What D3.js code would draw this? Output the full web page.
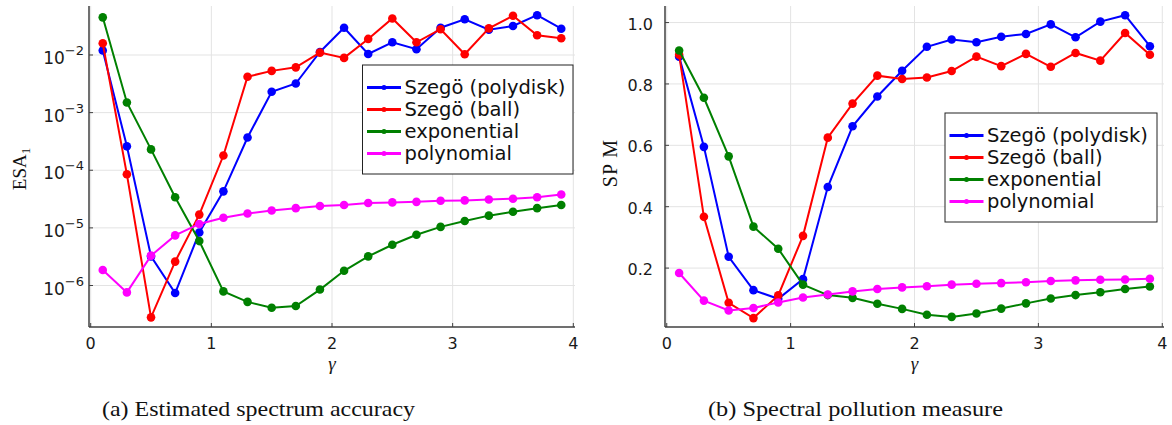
<!DOCTYPE html>
<html>
<head>
<meta charset="utf-8">
<script src="https://cdn.jsdelivr.net/npm/d3@7"></script>
<style>
  html, body { margin: 0; padding: 0; background: #fff; }
  svg { display: block; }
</style>
</head>
<body>
<svg id="chart" width="1172" height="425"></svg>
<script>
// ---------- data ----------
const gammas = [0.1,0.3,0.5,0.7,0.9,1.1,1.3,1.5,1.7,1.9,2.1,2.3,2.5,2.7,2.9,3.1,3.3,3.5,3.7,3.9];
const seriesNames = ["Szegö (polydisk)", "Szegö (ball)", "exponential", "polynomial"];
const seriesColors = ["#0000ff", "#ff0000", "#008000", "#ff00ff"];

// (a) ESA_1
const esaPolydisk = [0.012,2.6e-4,3.2e-6,7.4e-7,8.3e-6,4.3e-5,3.7e-4,2.3e-3,3.2e-3,0.0113,0.0297,0.0104,0.0166,0.0126,0.0297,0.0416,0.0275,0.0318,0.049,0.0286];
const esaBall     = [0.016,8.5e-5,2.8e-7,2.6e-6,1.7e-5,1.8e-4,4.2e-3,5.3e-3,6.1e-3,0.011,0.0089,0.019,0.043,0.0166,0.028,0.0103,0.029,0.048,0.022,0.0195];
const esaExp      = [0.045,1.5e-3,2.3e-4,3.4e-5,5.9e-6,7.9e-7,5.2e-7,4.1e-7,4.4e-7,8.5e-7,1.8e-6,3.2e-6,5.1e-6,7.6e-6,1.04e-5,1.32e-5,1.63e-5,1.9e-5,2.2e-5,2.5e-5];
const esaPoly     = [1.86e-6,7.6e-7,3.3e-6,7.4e-6,1.17e-5,1.5e-5,1.78e-5,2.0e-5,2.2e-5,2.4e-5,2.5e-5,2.7e-5,2.77e-5,2.83e-5,2.95e-5,3.0e-5,3.1e-5,3.2e-5,3.4e-5,3.8e-5];

// (b) SPM
const spmPolydisk = [0.889,0.595,0.237,0.128,0.100,0.164,0.464,0.662,0.759,0.843,0.921,0.945,0.936,0.954,0.963,0.994,0.952,1.003,1.024,0.923];
const spmBall     = [0.895,0.367,0.087,0.037,0.111,0.305,0.625,0.736,0.827,0.816,0.821,0.842,0.889,0.858,0.898,0.856,0.901,0.876,0.966,0.895];
const spmExp      = [0.909,0.755,0.564,0.335,0.263,0.146,0.112,0.103,0.084,0.067,0.048,0.041,0.052,0.068,0.085,0.101,0.112,0.121,0.132,0.140];
const spmPoly     = [0.184,0.094,0.062,0.070,0.088,0.104,0.114,0.124,0.132,0.137,0.141,0.146,0.149,0.151,0.154,0.158,0.160,0.162,0.163,0.165];

const xTicks = [0,1,2,3,4];
const esaTickExps = [-6,-5,-4,-3,-2];
const spmTicks = [0.2,0.4,0.6,0.8,1.0];

const captionA = "(a) Estimated spectrum accuracy";
const captionB = "(b) Spectral pollution measure";

// ---------- drawing ----------
const svg = d3.select("#chart");
const SANS = "DejaVu Sans, sans-serif";
const SERIF = "Liberation Serif, DejaVu Serif, serif";
const plotTop = 6, plotBottom = 327;

function panel(opts) {
  const g = svg.append("g");
  const x = d3.scaleLinear().domain([-0.014, 4.014]).range([opts.left, opts.right]);
  const y = opts.yScale;

  // grid
  g.append("g").selectAll("line").data(xTicks).join("line")
    .attr("x1", d => x(d)).attr("x2", d => x(d))
    .attr("y1", plotTop).attr("y2", plotBottom)
    .attr("stroke", "#e3e3e3").attr("stroke-width", 1);
  g.append("g").selectAll("line").data(opts.yTickVals).join("line")
    .attr("x1", opts.left).attr("x2", opts.right)
    .attr("y1", d => y(d)).attr("y2", d => y(d))
    .attr("stroke", "#e3e3e3").attr("stroke-width", 1);

  // series
  const clip = "clip" + opts.id;
  svg.append("clipPath").attr("id", clip).append("rect")
    .attr("x", opts.left - 6).attr("y", 0).attr("width", opts.right - opts.left + 12).attr("height", plotBottom + 6);
  const sg = g.append("g").attr("clip-path", `url(#${clip})`);
  const line = d3.line().x((d, i) => x(gammas[i])).y(d => y(d));
  opts.series.forEach((vals, k) => {
    sg.append("path").datum(vals).attr("d", line)
      .attr("fill", "none").attr("stroke", seriesColors[k]).attr("stroke-width", 2);
    sg.append("g").selectAll("circle").data(vals).join("circle")
      .attr("cx", (d, i) => x(gammas[i])).attr("cy", d => y(d)).attr("r", 4.3)
      .attr("fill", seriesColors[k]);
  });

  // axes lines
  g.append("line").attr("x1", opts.left).attr("x2", opts.left).attr("y1", plotTop).attr("y2", plotBottom)
    .attr("stroke", "#404040").attr("stroke-width", 1.5);
  g.append("line").attr("x1", opts.left).attr("x2", opts.right).attr("y1", plotBottom).attr("y2", plotBottom)
    .attr("stroke", "#404040").attr("stroke-width", 1.5);
  // tick marks
  g.append("g").selectAll("line").data(xTicks).join("line")
    .attr("x1", d => x(d)).attr("x2", d => x(d)).attr("y1", plotBottom).attr("y2", plotBottom - 4)
    .attr("stroke", "#404040").attr("stroke-width", 1);
  g.append("g").selectAll("line").data(opts.yTickVals).join("line")
    .attr("x1", opts.left).attr("x2", opts.left + 4).attr("y1", d => y(d)).attr("y2", d => y(d))
    .attr("stroke", "#404040").attr("stroke-width", 1);

  // x tick labels
  g.append("g").selectAll("text").data(xTicks).join("text")
    .attr("x", d => x(d)).attr("y", 349)
    .attr("text-anchor", "middle").attr("font-family", SANS).attr("font-size", 16)
    .attr("fill", "#1a1a1a").text(d => d);

  // y tick labels
  opts.drawYLabels(g, y);

  // x label
  g.append("text").attr("x", x(2)).attr("y", 370)
    .attr("text-anchor", "middle").attr("font-family", SERIF).attr("font-style", "italic")
    .attr("font-size", 19).attr("fill", "#1a1a1a").text("γ");

  // legend
  const L = opts.legend;
  g.append("rect").attr("x", L.x).attr("y", L.y).attr("width", L.w).attr("height", L.h)
    .attr("fill", "#fff").attr("stroke", "#222").attr("stroke-width", 1);
  seriesNames.forEach((name, k) => {
    const cy = L.y + 22.5 + k * 22;
    g.append("line").attr("x1", L.x + 4.5).attr("x2", L.x + 38.5).attr("y1", cy).attr("y2", cy)
      .attr("stroke", seriesColors[k]).attr("stroke-width", 3.2);
    g.append("circle").attr("cx", L.x + 21.5).attr("cy", cy).attr("r", 2.5).attr("fill", seriesColors[k]);
    g.append("text").attr("x", L.x + 42).attr("y", cy + 6.8)
      .attr("font-family", SANS).attr("font-size", 19.5).attr("fill", "#111").text(name);
  });

  // caption
  g.append("text").attr("x", opts.capX).attr("y", 416)
    .attr("text-anchor", "middle").attr("font-family", SERIF).attr("font-size", 21)
    .attr("fill", "#111").attr("textLength", opts.capW).attr("lengthAdjust", "spacingAndGlyphs")
    .text(opts.caption);
}

// panel (a)
const yLog = d3.scaleLog().domain([Math.pow(10, -6.72), Math.pow(10, -1.15)]).range([plotBottom, plotTop]);
panel({
  id: "a", left: 89, right: 575, yScale: yLog,
  yTickVals: esaTickExps.map(e => Math.pow(10, e)),
  series: [esaPolydisk, esaBall, esaExp, esaPoly],
  drawYLabels: (g, y) => {
    esaTickExps.forEach(e => {
      const t = g.append("text").attr("x", 84).attr("y", y(Math.pow(10, e)) + 9)
        .attr("text-anchor", "end").attr("font-family", SANS).attr("font-size", 17).attr("fill", "#1a1a1a");
      t.append("tspan").text("10");
      t.append("tspan").attr("dy", -9).attr("font-size", 13).text("−" + Math.abs(e));
    });
    g.append("text")
      .attr("transform", `translate(26,169) rotate(-90)`)
      .attr("text-anchor", "middle").attr("font-family", SERIF).attr("font-size", 19).attr("fill", "#111")
      .call(t => { t.append("tspan").text("ESA"); t.append("tspan").attr("dy", 4).attr("font-size", 13).text("1"); });
  },
  legend: { x: 362.5, y: 65, w: 210.5, h: 109 },
  caption: captionA, capX: 258.5, capW: 313
});

// panel (b)
const yLin = d3.scaleLinear().domain([0.008, 1.054]).range([plotBottom, plotTop]);
panel({
  id: "b", left: 665, right: 1164, yScale: yLin,
  yTickVals: spmTicks,
  series: [spmPolydisk, spmBall, spmExp, spmPoly],
  drawYLabels: (g, y) => {
    g.append("g").selectAll("text").data(spmTicks).join("text")
      .attr("x", 653).attr("y", d => y(d) + 7)
      .attr("text-anchor", "end").attr("font-family", SANS).attr("font-size", 16).attr("fill", "#1a1a1a")
      .text(d => d.toFixed(1));
    g.append("text")
      .attr("transform", `translate(617,163) rotate(-90)`)
      .attr("text-anchor", "middle").attr("font-family", SERIF).attr("font-size", 20).attr("fill", "#111")
      .attr("letter-spacing", 1).text("SP M");
  },
  legend: { x: 945, y: 113, w: 212, h: 109 },
  caption: captionB, capX: 855.5, capW: 295
});
</script>
</body>
</html>
